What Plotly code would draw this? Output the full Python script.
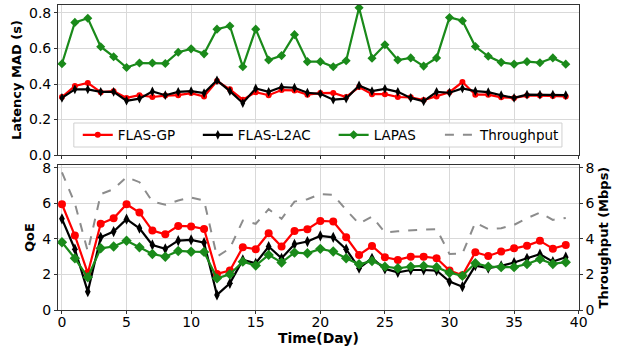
import plotly.graph_objects as go

days = list(range(40))

lat_gp = [0.327, 0.389, 0.406, 0.354, 0.36, 0.322, 0.337, 0.327, 0.335, 0.337,
          0.349, 0.33, 0.417, 0.37, 0.312, 0.354, 0.337, 0.366, 0.364, 0.34,
          0.349, 0.35, 0.327, 0.383, 0.343, 0.343, 0.327, 0.325, 0.31, 0.33,
          0.354, 0.411, 0.34, 0.34, 0.325, 0.322, 0.335, 0.335, 0.333, 0.33]
lat_l2ac = [0.322, 0.37, 0.37, 0.356, 0.356, 0.306, 0.318, 0.358, 0.337, 0.356,
            0.36, 0.349, 0.421, 0.36, 0.293, 0.375, 0.356, 0.383, 0.379, 0.351,
            0.345, 0.312, 0.318, 0.392, 0.36, 0.373, 0.356, 0.322, 0.303, 0.356,
            0.351, 0.375, 0.36, 0.354, 0.337, 0.322, 0.34, 0.34, 0.34, 0.337]
lat_lapas = [0.514, 0.747, 0.77, 0.61, 0.554, 0.493, 0.518, 0.518, 0.516, 0.579,
             0.598, 0.57, 0.709, 0.727, 0.497, 0.709, 0.535, 0.56, 0.678, 0.526,
             0.526, 0.497, 0.531, 0.83, 0.545, 0.621, 0.535, 0.547, 0.501, 0.547,
             0.775, 0.756, 0.611, 0.556, 0.522, 0.512, 0.526, 0.52, 0.547, 0.512]

qoe_gp = [5.95, 4.19, 2.07, 4.85, 5.16, 5.95, 5.48, 4.47, 4.26, 4.73,
          4.70, 4.56, 2.03, 2.22, 3.53, 3.42, 4.32, 3.57, 4.45, 4.54,
          5.01, 4.98, 4.09, 3.10, 3.60, 2.97, 2.82, 3.00, 3.00, 2.91,
          2.22, 1.95, 3.25, 3.04, 3.29, 3.47, 3.62, 3.89, 3.45, 3.66]
qoe_l2ac = [5.13, 3.42, 1.03, 4.09, 4.41, 5.11, 4.60, 3.66, 3.44, 3.90,
            3.94, 3.79, 0.85, 1.50, 2.82, 2.63, 3.57, 2.91, 3.70, 3.85,
            4.17, 4.09, 3.42, 2.35, 2.91, 2.31, 2.12, 2.25, 2.25, 2.22,
            1.60, 1.31, 2.50, 2.35, 2.48, 2.67, 2.91, 3.14, 2.72, 2.97]
qoe_lapas = [3.81, 2.91, 1.84, 3.47, 3.57, 3.90, 3.53, 3.15, 3.00, 3.32,
             3.28, 3.27, 1.78, 2.01, 2.72, 2.50, 3.10, 2.67, 3.23, 3.19,
             3.44, 3.29, 2.91, 2.57, 2.76, 2.44, 2.35, 2.44, 2.48, 2.41,
             2.10, 1.92, 2.63, 2.44, 2.41, 2.41, 2.59, 2.86, 2.59, 2.69]
throughput = [7.74, 6.00, 3.29, 6.52, 6.80, 7.48, 7.19, 6.10, 5.92, 6.16,
              6.33, 6.16, 3.00, 3.47, 5.03, 4.85, 5.67, 5.13, 6.10, 6.23,
              6.52, 6.48, 5.63, 4.85, 5.26, 4.36, 4.43, 4.50, 4.53, 4.55,
              3.15, 3.18, 4.92, 4.55, 4.60, 4.79, 5.16, 5.48, 5.07, 5.18]

RED, BLACK, GREEN, GRAY = "#ff0000", "#000000", "#1a8a1a", "#8c8c8c"
FONT = "DejaVu Sans"

fig = go.Figure()

def add(y, name, color, symbol, xa, ya, show, size=7, legend="legend"):
    fig.add_trace(go.Scatter(
        x=days, y=y, name=name, mode="lines+markers", xaxis=xa, yaxis=ya,
        showlegend=show, legend=legend,
        line=dict(color=color, width=2.2),
        marker=dict(color=color, symbol=symbol, size=size),
    ))

# top panel
add(lat_gp, "FLAS-GP", RED, "circle", "x2", "y", True, size=6, legend="legend")
add(lat_l2ac, "FLAS-L2AC", BLACK, "diamond-tall", "x2", "y", True, size=7, legend="legend2")
add(lat_lapas, "LAPAS", GREEN, "diamond", "x2", "y", True, size=7, legend="legend3")
fig.add_trace(go.Scatter(x=days, y=throughput, name="Throughput", mode="lines",
                         xaxis="x", yaxis="y3", showlegend=True, legend="legend4",
                         line=dict(color=GRAY, width=2, dash="dash")))
# bottom panel
add(qoe_gp, "FLAS-GP", RED, "circle", "x", "y2", False, size=8)
add(qoe_l2ac, "FLAS-L2AC", BLACK, "diamond-tall", "x", "y2", False, size=8)
add(qoe_lapas, "LAPAS", GREEN, "diamond", "x", "y2", False, size=8)

axis_common = dict(showline=True, linecolor="#333333", linewidth=1, mirror=True,
                   ticks="outside", ticklen=3, tickcolor="#333333",
                   showgrid=True, gridcolor="#d9d9d9", gridwidth=1, zeroline=False,
                   tickfont=dict(family=FONT, size=14, color="black"))

# plot area spans y px 5 (paper 1) .. 310 (paper 0)
def py(p):
    return (310 - p) / 305

leg_common = dict(orientation="h", xanchor="left", yanchor="middle", y=py(135),
                  xref="paper", yref="paper", bgcolor="rgba(0,0,0,0)", borderwidth=0,
                  font=dict(family=FONT, size=13.5), itemwidth=30)
text_starts = [118, 240, 378, 486]

dom_x = [58 / 630, 587 / 630]
fig.update_layout(
    width=630, height=348,
    margin=dict(l=0, r=0, t=5, b=38),
    paper_bgcolor="white", plot_bgcolor="white",
    font=dict(family=FONT, color="black"),
    xaxis=dict(domain=dom_x, anchor="y2", range=[-0.3, 40], dtick=5,
               ticklabelstandoff=-4,
               title=dict(text="<b>Time(Day)</b>", font=dict(size=14), standoff=0),
               **axis_common),
    xaxis2=dict(domain=dom_x, anchor="y", matches="x", range=[-0.3, 40], dtick=5,
                showticklabels=False, **axis_common),
    yaxis=dict(domain=[0.508, 1], anchor="x2", range=[0, 0.845], dtick=0.2, tickformat=".1f",
               title=dict(text="<b>Latency MAD (s)</b>", font=dict(size=13), standoff=4),
               **axis_common),
    yaxis2=dict(domain=[0, 0.475], anchor="x", range=[0, 8.15], dtick=2,
                title=dict(text="<b>QoE</b>", font=dict(size=13), standoff=4),
                **axis_common),
    yaxis3=dict(overlaying="y2", anchor="x", side="right", range=[0, 8.15], dtick=2,
                title=dict(text="<b>Throughput (Mbps)</b>", font=dict(size=13), standoff=5),
                showline=True, linecolor="#333333", linewidth=1,
                ticks="outside", ticklen=3, tickcolor="#333333",
                showgrid=False, zeroline=False,
                tickfont=dict(family=FONT, size=14, color="black")),
    legend=dict(x=(text_starts[0] - 40) / 630, **leg_common),
    legend2=dict(x=(text_starts[1] - 40) / 630, **leg_common),
    legend3=dict(x=(text_starts[2] - 40) / 630, **leg_common),
    legend4=dict(x=(text_starts[3] - 40) / 630, **leg_common),
    shapes=[dict(type="rect", xref="paper", yref="paper", layer="above",
                 x0=74 / 630, x1=570 / 630, y0=py(147), y1=py(123),
                 fillcolor="rgba(255,255,255,0.85)", line=dict(color="#d0d0d0", width=1))],
)

fig.write_html("out.html", config={"displayModeBar": False},
               post_script="document.body.style.margin='0';")
